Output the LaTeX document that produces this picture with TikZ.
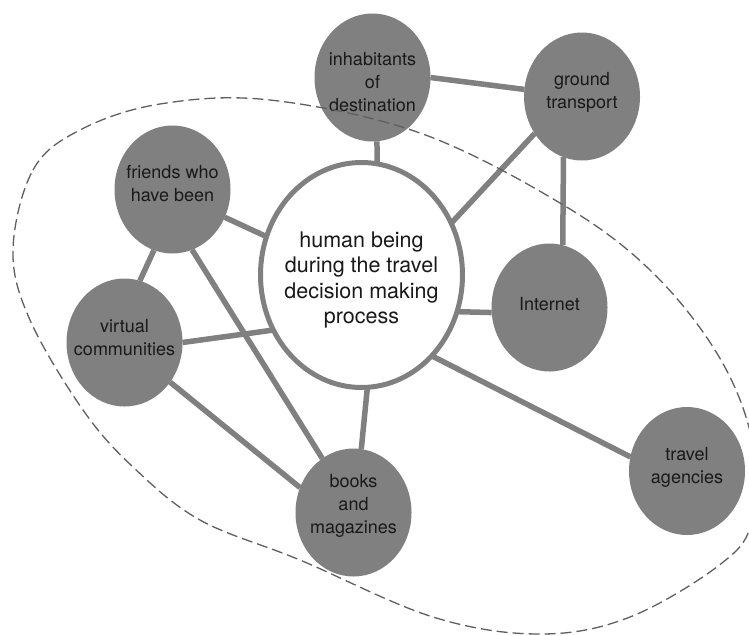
\documentclass[tikz,border=0pt]{standalone}
\usepackage{fontspec}
\setmainfont{TeX Gyre Heros}
\usetikzlibrary{shapes.geometric}
\definecolor{nodegray}{RGB}{128,128,128}
\definecolor{txt}{RGB}{25,25,25}
\definecolor{dashgray}{RGB}{95,95,95}
\begin{document}
\begin{tikzpicture}[x=1pt,y=-1pt,
  actor/.style={ellipse, fill=nodegray, draw=none, minimum width=116pt,
    minimum height=128pt, inner sep=0pt, outer sep=0pt},
  hubnode/.style={ellipse, fill=white, draw=nodegray, line width=5pt,
    minimum width=202pt, minimum height=225pt, inner sep=0pt, outer sep=0pt},
  tag/.style={align=center, text=txt, inner sep=0pt,
    font=\fontsize{18}{23}\selectfont},
  hubtag/.style={align=center, text=txt, inner sep=0pt,
    font=\fontsize{21.5}{25.5}\selectfont},
  link/.style={draw=nodegray, line width=5.5pt},
  scopeline/.style={draw=dashgray, line width=1.3pt, dash pattern=on 11pt off 5pt}
]
\useasboundingbox (0,0) rectangle (749,635);

% discs
\node[hubnode] (hub) at (361.5,275) {};
\node[actor] (inh) at (372.5,77.5) {};
\node[actor] (ground) at (582,96.5) {};
\node[actor] (friends) at (172.5,189.5) {};
\node[actor] (virtual) at (124.5,342.5) {};
\node[actor] (internet) at (549.5,307.5) {};
\node[actor] (agencies) at (687,471) {};
\node[actor] (books) at (353.5,512.5) {};

% connectors
\draw[link] (inh.-86) -- (hub.82);
\draw[link] (inh.0) -- (ground.173);
\draw[link] (ground.218) -- (hub.30);
\draw[link] (ground.253) -- (internet.78);
\draw[link] (friends.-28.5) -- (hub.158);
\draw[link] (friends.253) -- (virtual.76);
\draw[link] (friends.-72.7) -- (books.120);
\draw[link] (virtual.0) -- (hub.212);
\draw[link] (virtual.-41.7) -- (books.155.3);
\draw[link] (hub.-21.1) -- (internet.185.6);
\draw[link] (hub.-49.1) -- (agencies.166.2);
\draw[link] (hub.-87.3) -- (books.83.4);

% labels
\node[hubtag] (hubT) at (361.5,280) {human being\\during the travel\\decision making\\process};
\node[tag] (inhT) at (372.5,82) {inhabitants\\of\\destination};
\node[tag] (groundT) at (582,92.5) {ground\\transport};
\node[tag] (friendsT) at (172.5,184) {friends who\\have been};
\node[tag] (virtualT) at (124.5,337.5) {virtual\\communities};
\node[tag] (internetT) at (549.5,304.5) {Internet};
\node[tag] (agenciesT) at (687,467) {travel\\agencies};
\node[tag] (booksT) at (353.5,506) {books\\and\\magazines};

% dashed boundary of the decision environment
\draw[scopeline] plot[smooth cycle, tension=0.6] coordinates {
  (13,250) (33,170) (80,130) (160,104) (270,100) (420,133) (560,203)
  (650,270) (718,355) (752,440) (752,520) (722,563) (630,617) (540,634)
  (433,617) (300,560) (200,520) (133,467) (83,410) (30,320)};
\end{tikzpicture}
\end{document}
